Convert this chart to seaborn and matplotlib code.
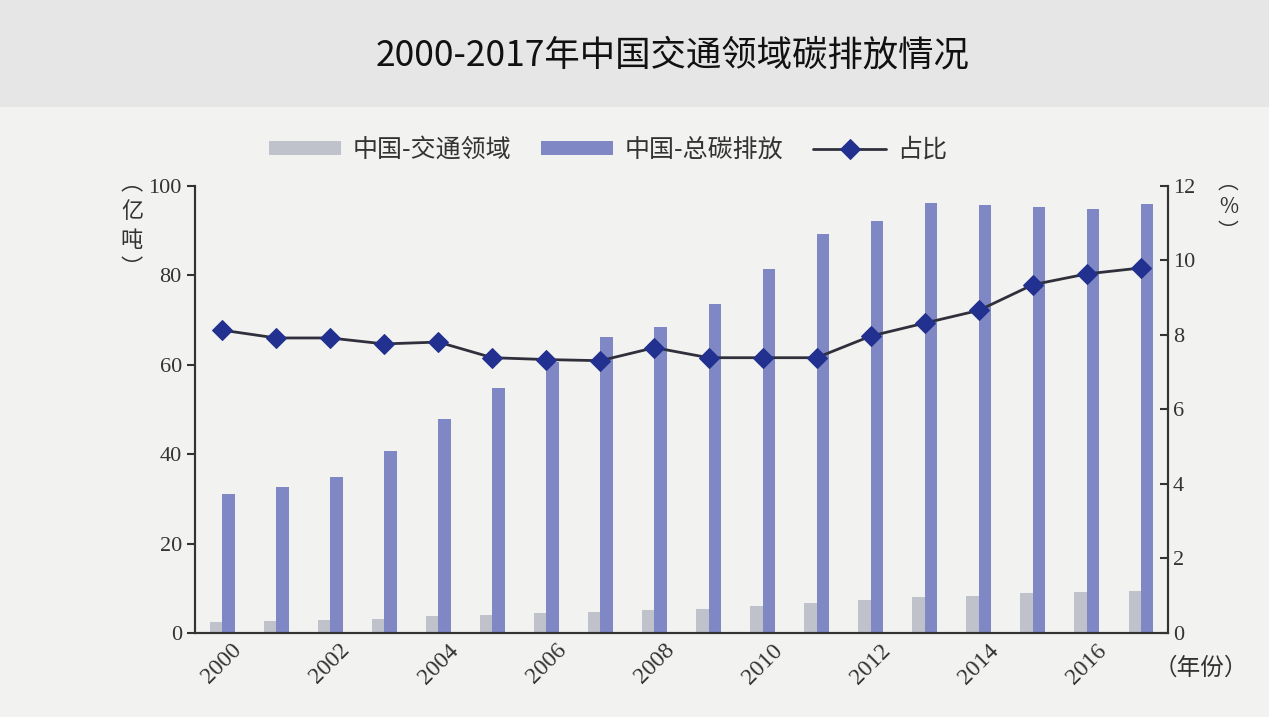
import numpy as np
import pandas as pd
import matplotlib
matplotlib.use('Agg')
from matplotlib import pyplot as plt
from matplotlib.patches import Rectangle
import seaborn as sns

years = ['2000', '2001', '2002', '2003', '2004', '2005', '2006', '2007', '2008',
         '2009', '2010', '2011', '2012', '2013', '2014', '2015', '2016', '2017']
# 亿吨
transport = [2.5, 2.6, 2.8, 3.1, 3.7, 4.1, 4.4, 4.8, 5.2,
             5.4, 6.0, 6.6, 7.3, 8.0, 8.3, 8.9, 9.1, 9.4]
total = [31.0, 32.7, 35.0, 40.7, 47.9, 54.8, 60.6, 66.2, 68.5,
         73.6, 81.4, 89.3, 92.2, 96.2, 95.7, 95.3, 94.9, 96.0]
# %
ratio = [8.13, 7.92, 7.92, 7.76, 7.81, 7.39, 7.34, 7.31, 7.66,
         7.39, 7.39, 7.39, 7.97, 8.32, 8.66, 9.35, 9.64, 9.80]

series_names = ['中国-交通领域', '中国-总碳排放']
line_name = '占比'

sns.set_theme(style='white')
plt.rcParams['font.family'] = ['Noto Sans CJK SC', 'DejaVu Sans']
plt.rcParams['axes.unicode_minus'] = False
num_font = ['Liberation Serif', 'DejaVu Serif']

df = pd.DataFrame({
    'year': years * 2,
    'value': transport + total,
    'series': [series_names[0]] * len(years) + [series_names[1]] * len(years),
})

fig = plt.figure(figsize=(12.69, 7.17), dpi=100)
fig.set_facecolor('#e6e6e6')
fig.add_artist(Rectangle((0, 0), 1, 0.851, transform=fig.transFigure,
                         facecolor='#f2f2f0', edgecolor='none', zorder=-5))

ax = fig.add_axes([0.1537, 0.1172, 0.7667, 0.6234])
ax.patch.set_alpha(0)
sns.barplot(data=df, x='year', y='value', hue='series',
            palette=['#bfc2ca', '#7f88c4'], width=0.46, saturation=1,
            linewidth=0, ax=ax)
handles, labels = ax.get_legend_handles_labels()
ax.get_legend().remove()

ax2 = ax.twinx()
sns.lineplot(x=np.arange(len(years)), y=ratio, ax=ax2, color='#30303c', lw=2,
             marker='D', markersize=10, markerfacecolor='#22308f',
             markeredgecolor='#22308f', label=line_name, legend=False)
h2, l2 = ax2.get_legend_handles_labels()

ax.set_xlim(-0.5, len(years) - 0.5)
ax.set_ylim(0, 100)
ax2.set_ylim(0, 12)
ax.set_xlabel('')
ax.set_ylabel('')
ax2.set_ylabel('')

ax.set_yticks(range(0, 101, 20))
ax.set_yticklabels([str(v) for v in range(0, 101, 20)], family=num_font, fontsize=16, color='#333')
ax2.set_yticks(range(0, 13, 2))
ax2.set_yticklabels([str(v) for v in range(0, 13, 2)], family=num_font, fontsize=16, color='#333')

ax.set_xticks(range(0, len(years), 2))
ax.set_xticklabels(years[::2], rotation=45, ha='center', va='top',
                   family=num_font, fontsize=17, color='#333')
ax.set_xticks(np.arange(0.5, len(years) - 1, 1), minor=True)
ax.tick_params(axis='x', which='major', length=0, pad=5)
ax.tick_params(axis='x', which='minor', direction='in', length=6, width=1.5, color='#333')
ax.tick_params(axis='y', direction='out', length=6, width=1.5, color='#333', left=True)
ax2.tick_params(axis='y', direction='in', length=6, width=1.5, color='#333', right=True)

for a in (ax, ax2):
    a.spines['top'].set_visible(False)
    for s in ('left', 'right', 'bottom'):
        a.spines[s].set_color('#333')
        a.spines[s].set_linewidth(1.5)
    a.grid(False)

fig.legend(handles + h2, labels + l2, loc='center', bbox_to_anchor=(0.479, 0.791),
           ncol=3, frameon=False, fontsize=18, handlelength=2.9, handleheight=0.5,
           handletextpad=0.45, columnspacing=1.2, labelcolor='#333')

fig.text(0.53, 0.923, '2000-2017年中国交通领域碳排放情况', ha='center', va='center',
         fontsize=25.5, color='#111')

# vertical unit labels, one character per line
for i, ch in enumerate(['︵', '亿', '吨', '︶']):
    fig.text(0.104, 0.745 - i * 0.04, ch, ha='center', va='center', fontsize=16,
             color='#333', rotation=0)
for i, ch in enumerate(['︵', '%', '︶']):
    fig.text(0.968, 0.745 - i * 0.034, ch, ha='center', va='center', fontsize=15,
             color='#333', rotation=0)
fig.text(0.946, 0.068, '（年份）', ha='center', va='center', fontsize=17, color='#333')

fig.savefig('out.png', dpi=100)
